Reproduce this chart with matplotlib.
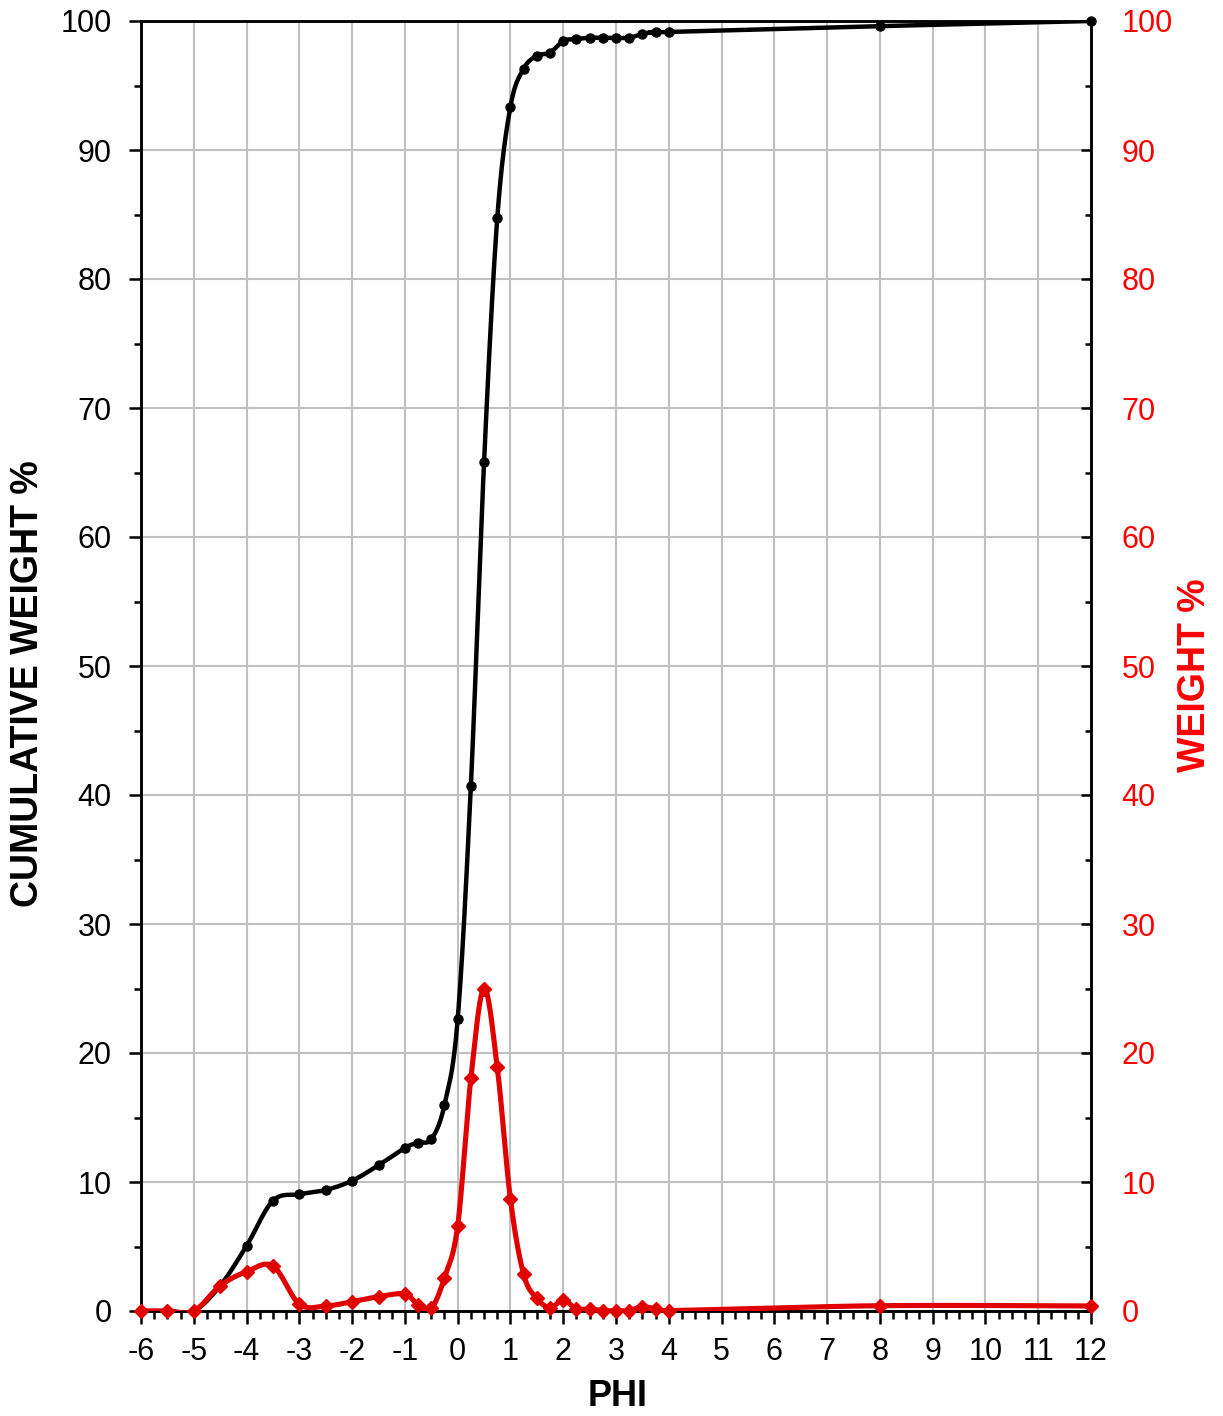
import numpy as np
import matplotlib.pyplot as plt
from matplotlib.ticker import MultipleLocator

plt.rcParams['font.family'] = ['Liberation Sans', 'DejaVu Sans']

# grain size classes (phi) and sieve results
phi = [-6, -5.5, -5, -4.5, -4, -3.5, -3, -2.5, -2, -1.5, -1, -0.75, -0.5, -0.25,
       0, 0.25, 0.5, 0.75, 1, 1.25, 1.5, 1.75, 2, 2.25, 2.5, 2.75, 3, 3.25,
       3.5, 3.75, 4, 8, 12]

weight = [0, 0, 0, 1.96, 3.05, 3.49, 0.54, 0.39, 0.72, 1.11, 1.32, 0.47, 0.2, 2.58,
          6.59, 18.04, 25.0, 18.9, 8.66, 2.84, 0.98, 0.26, 0.85, 0.16, 0.16, 0.03, 0.03, 0.03,
          0.34, 0.16, 0.03, 0.41, 0.39]

cumulative = [0, 0, 0, 1.96, 5.05, 8.55, 9.05, 9.38, 10.1, 11.3, 12.64, 13.06, 13.32, 15.97,
              22.6, 40.7, 65.8, 84.7, 93.36, 96.3, 97.3, 97.55, 98.45, 98.6, 98.7, 98.7, 98.7, 98.7,
              99.0, 99.15, 99.15, 99.6, 100]


def smooth(x, y, n=30):
    # cardinal bezier through the points, like a spreadsheet "smoothed line"
    x = np.asarray(x, float)
    y = np.asarray(y, float)
    pts = np.column_stack([x, y])
    out = [pts[0]]
    t = np.linspace(0, 1, n)[1:, None]
    for i in range(len(pts) - 1):
        p0 = pts[max(i - 1, 0)]
        p1 = pts[i]
        p2 = pts[i + 1]
        p3 = pts[min(i + 2, len(pts) - 1)]
        c1 = p1 + (p2 - p0) / 6
        c2 = p2 - (p3 - p1) / 6
        seg = ((1 - t) ** 3) * p1 + 3 * ((1 - t) ** 2) * t * c1 + 3 * (1 - t) * t ** 2 * c2 + t ** 3 * p2
        out.extend(seg)
    out = np.array(out)
    return out[:, 0], out[:, 1]


fig = plt.figure(figsize=(12.23, 14.16), dpi=100)
ax = fig.add_axes([141 / 1223, 1 - 1311 / 1416, 950 / 1223, 1290 / 1416])
ax2 = ax.twinx()

grid_col = '#c0c0c0'
ax.set_xlim(-6, 12)
ax.set_ylim(0, 100)
ax2.set_ylim(0, 100)

ax.xaxis.set_major_locator(MultipleLocator(1))
ax.xaxis.set_minor_locator(MultipleLocator(0.25))
ax.yaxis.set_major_locator(MultipleLocator(10))
ax.yaxis.set_minor_locator(MultipleLocator(5))
ax2.yaxis.set_major_locator(MultipleLocator(10))
ax2.yaxis.set_minor_locator(MultipleLocator(5))

ax.grid(True, which='major', color=grid_col, linewidth=1.5)
ax.set_axisbelow(True)

# cumulative curve
sx, sy = smooth(phi, cumulative)
ax.plot(sx, sy, color='black', linewidth=3.2, solid_capstyle='round', zorder=3)
ax.plot(phi, cumulative, linestyle='none', marker='o', markersize=6.5,
        color='black', zorder=4, clip_on=False)

# weight per class
rx, ry = smooth(phi, weight)
ax2.plot(rx, ry, color='#e00000', linewidth=3.7, solid_capstyle='round', zorder=3)
ax2.plot(phi, weight, linestyle='none', marker='D', markersize=7,
         color='#e00000', zorder=4, clip_on=False)

ax.set_xticks(np.arange(-6, 13, 1))
ax.set_xticklabels([str(v) for v in range(-6, 13)])

for sp in ['left', 'right', 'top', 'bottom']:
    ax.spines[sp].set_linewidth(1.8)
    ax2.spines[sp].set_linewidth(1.8)

ax.tick_params(axis='x', which='major', direction='out', length=9, width=1.8,
               labelsize=22, pad=10)
ax.tick_params(axis='x', which='minor', direction='out', length=6, width=1.8)
ax.tick_params(axis='y', which='major', direction='out', length=9, width=1.8,
               labelsize=22, pad=12)
ax.tick_params(axis='y', which='minor', direction='out', length=5, width=1.8)
ax2.tick_params(axis='y', which='major', direction='in', length=7, width=1.8,
                labelsize=22, labelcolor='#ff0000', pad=22)
ax2.tick_params(axis='y', which='minor', direction='in', length=4, width=1.8)

# axis titles placed in figure pixels
W, H = 1223, 1416
fig.text(618 / W, 1 - 1396 / H, 'PHI', fontsize=26, fontweight='bold',
         ha='center', va='center')
fig.text(28 / W, 1 - 684 / H, 'CUMULATIVE WEIGHT %', fontsize=27, fontweight='bold',
         rotation=90, ha='center', va='center')
fig.text(1195 / W, 1 - 675 / H, 'WEIGHT %', fontsize=27, fontweight='bold',
         color='#ff0000', rotation=90, ha='center', va='center')

fig.savefig('out.png', dpi=100)
